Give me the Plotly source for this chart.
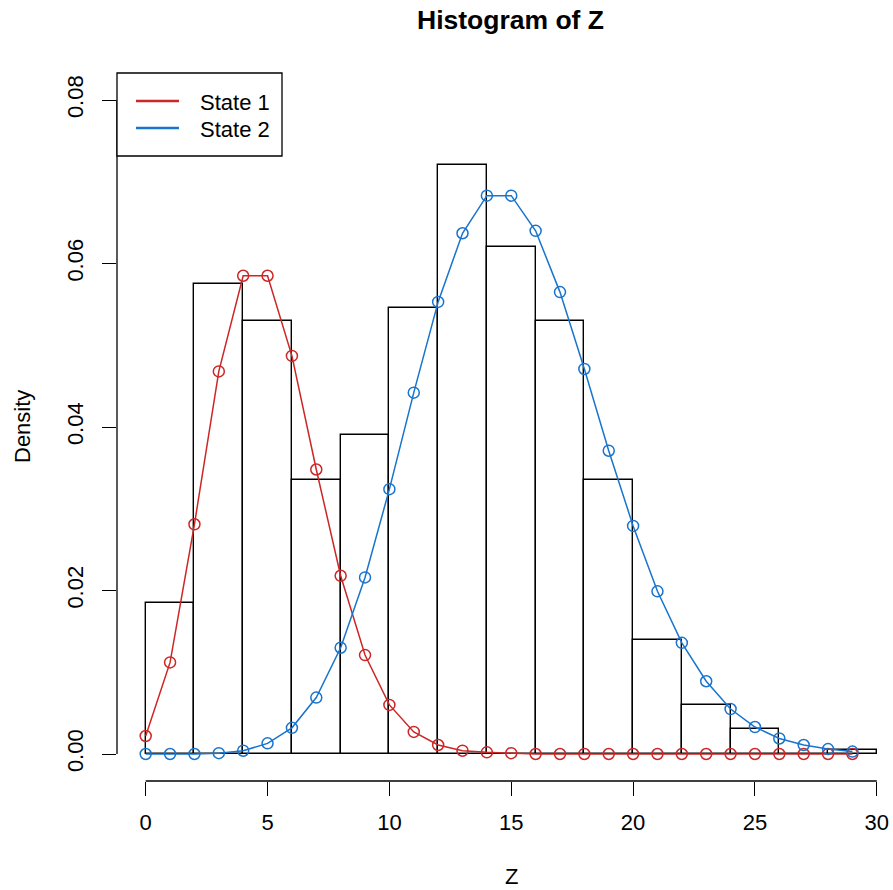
import plotly.graph_objects as go

# ---- data ----
breaks = [0, 2, 4, 6, 8, 10, 12, 14, 16, 18, 20, 22, 24, 26, 28, 30]
density = [0.0185, 0.0575, 0.0530, 0.0335, 0.0390, 0.0545, 0.0720, 0.0620,
           0.0530, 0.0335, 0.0140, 0.0060, 0.0030, 0.0000, 0.0005]
z_vals = list(range(30))
state1 = [0.0022, 0.0112, 0.0281, 0.0468, 0.0585, 0.0585, 0.0487, 0.0348, 0.0218, 0.0121,
          0.0060, 0.0027, 0.0011, 0.0004, 0.0002, 0.0001, 0.0000, 0.0000, 0.0000, 0.0000,
          0.0000, 0.0000, 0.0000, 0.0000, 0.0000, 0.0000, 0.0000, 0.0000, 0.0000, 0.0000]
state2 = [0.0000, 0.0000, 0.0000, 0.0001, 0.0004, 0.0013, 0.0032, 0.0069, 0.0130, 0.0216,
          0.0324, 0.0442, 0.0553, 0.0637, 0.0683, 0.0683, 0.0640, 0.0565, 0.0471, 0.0371,
          0.0279, 0.0199, 0.0136, 0.0089, 0.0055, 0.0033, 0.0019, 0.0011, 0.0006, 0.0003]
x_ticks = [0, 5, 10, 15, 20, 25, 30]
y_ticks = [0.00, 0.02, 0.04, 0.06, 0.08]
series_names = ["State 1", "State 2"]
title_text = "Histogram of Z"
x_title = "Z"
y_title = "Density"

RED = "#CD2626"
BLUE = "#1874CD"
FONT = "Liberation Sans, Arial, Helvetica, sans-serif"
FS = 22

# ---- layout geometry (pixels) ----
W, H = 893, 890
L, R, T, B = 117, 0, 70, 109
PW, PH = W - L - R, H - T - B


def px(x):
    return (x - L) / PW


def py(y):
    return (H - B - y) / PH


centers = [(breaks[i] + breaks[i + 1]) / 2 for i in range(len(density))]
widths = [breaks[i + 1] - breaks[i] for i in range(len(density))]

fig = go.Figure()
fig.add_trace(go.Bar(
    x=centers, y=density, width=widths,
    marker=dict(color="rgba(0,0,0,0)", line=dict(color="black", width=1.4)),
    showlegend=False, hoverinfo="x+y",
))
fig.add_trace(go.Scatter(
    x=z_vals, y=state1, mode="lines+markers", name=series_names[0],
    line=dict(color=RED, width=1.5),
    marker=dict(symbol="circle-open", size=11, color=RED, line=dict(width=1.5)),
    showlegend=False,
))
fig.add_trace(go.Scatter(
    x=z_vals, y=state2, mode="lines+markers", name=series_names[1],
    line=dict(color=BLUE, width=1.5),
    marker=dict(symbol="circle-open", size=11, color=BLUE, line=dict(width=1.5)),
    showlegend=False,
))

x_left = -28.7 / 24.37
x_right = (W - R - 145.7) / 24.37
y_scale = 0.02 / 163.5
y_bottom = -(781 - 754) * y_scale
y_top = (754 - T) * y_scale

shapes = [
    # R-style axis lines spanning only the tick range
    dict(type="line", xref="x", yref="paper", x0=x_ticks[0], x1=x_ticks[-1], y0=0, y1=0,
         line=dict(color="black", width=1.3)),
    dict(type="line", xref="paper", yref="y", x0=0, x1=0, y0=y_ticks[0], y1=y_ticks[-1],
         line=dict(color="black", width=1.3)),
    # legend box
    dict(type="rect", xref="paper", yref="paper", x0=px(117), x1=px(282), y0=py(156), y1=py(73),
         line=dict(color="black", width=1.3), fillcolor="white", layer="above"),
    dict(type="line", xref="paper", yref="paper", x0=px(136), x1=px(179), y0=py(101), y1=py(101),
         line=dict(color=RED, width=2.6)),
    dict(type="line", xref="paper", yref="paper", x0=px(136), x1=px(179), y0=py(128), y1=py(128),
         line=dict(color=BLUE, width=2.6)),
]

annotations = [
    dict(text="<b>" + title_text + "</b>", xref="paper", yref="paper", x=px(510), y=py(20),
         xanchor="center", yanchor="middle", showarrow=False,
         font=dict(family=FONT, size=26.5, color="black")),
    dict(text=x_title, xref="paper", yref="paper", x=px(511), y=py(877),
         xanchor="center", yanchor="middle", showarrow=False,
         font=dict(family=FONT, size=FS, color="black")),
    dict(text=y_title, xref="paper", yref="paper", x=px(22), y=py(427),
         xanchor="center", yanchor="middle", showarrow=False, textangle=-90,
         font=dict(family=FONT, size=FS, color="black")),
    dict(text=series_names[0], xref="paper", yref="paper", x=px(198), y=py(102),
         xanchor="left", yanchor="middle", showarrow=False,
         font=dict(family=FONT, size=FS, color="black")),
    dict(text=series_names[1], xref="paper", yref="paper", x=px(198), y=py(129),
         xanchor="left", yanchor="middle", showarrow=False,
         font=dict(family=FONT, size=FS, color="black")),
]

fig.update_layout(
    width=W, height=H,
    margin=dict(l=L, r=R, t=T, b=B, pad=0),
    paper_bgcolor="white", plot_bgcolor="white",
    font=dict(family=FONT, size=FS, color="black"),
    showlegend=False,
    bargap=0,
    shapes=shapes,
    annotations=annotations,
    xaxis=dict(range=[x_left, x_right], tickvals=x_ticks, ticks="outside", ticklen=14,
               tickwidth=1.3, tickcolor="black", showgrid=False, zeroline=False,
               showline=False, ticklabelstandoff=8, tickfont=dict(size=FS)),
    yaxis=dict(range=[y_bottom, y_top], tickvals=y_ticks, tickformat=".2f", tickangle=-90,
               ticks="outside", ticklen=14, tickwidth=1.3, tickcolor="black",
               showgrid=False, zeroline=False, showline=False, ticklabelstandoff=10,
               tickfont=dict(size=FS)),
)

fig.write_html("out.html", config={"displayModeBar": False},
               post_script="document.body.style.margin='0px';document.body.style.overflow='hidden';")
